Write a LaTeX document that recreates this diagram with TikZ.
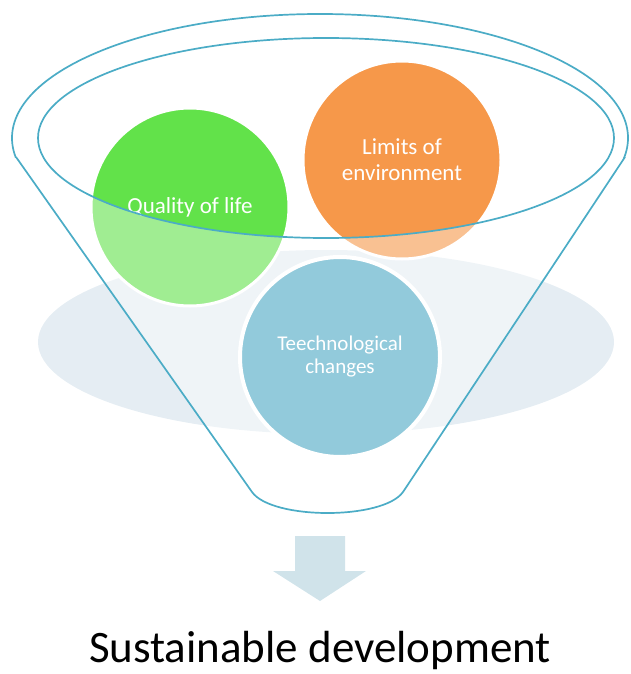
\documentclass[tikz,border=0pt]{standalone}
\usepackage{fontspec}
\setmainfont{Carlito}
\definecolor{rimc}{HTML}{4BACC6}
\definecolor{bgell}{HTML}{E5EDF3}
\definecolor{qgreen}{HTML}{62E24A}
\definecolor{lorange}{HTML}{F6984A}
\definecolor{tblue}{HTML}{92CADB}
\definecolor{arrowc}{HTML}{D0E3EA}
\begin{document}
\begin{tikzpicture}[x=1pt,y=-1pt,
  circ/.style={circle, draw=white, line width=3pt, inner sep=0pt, minimum size=198pt,
    text=white, align=center, font=\fontsize{23}{26}\selectfont},
  rimline/.style={draw=rimc, line width=1.7pt, line join=round}]
\useasboundingbox (0,0) rectangle (630,674);
% background ellipse
\fill[bgell] (326,342) ellipse [x radius=288pt, y radius=92pt];
% circles behind the funnel front
\node[circ, fill=qgreen] (q) at (190,207) {Quality of life};
\node[circ, fill=lorange] (lim) at (402,160) {Limits of\\environment};
% translucent funnel front
\fill[white, opacity=0.4, even odd rule]
  (16,157) -- (252,492) .. controls (272,520) and (383,520) .. (403,492) -- (625,157)
  -- (626,0) -- (14,0) -- cycle
  (326,138) ellipse [x radius=288pt, y radius=100pt];
% front circle
\node[circ, fill=tblue, line width=4pt, minimum size=200pt,
  font=\fontsize{21}{23}\selectfont] (tech) at (340,357) {Teechnological\\changes};
% funnel outline
\begin{scope}
  \clip (0,0) rectangle (630,157);
  \draw[rimline] (320,138) ellipse [x radius=308pt, y radius=124pt];
\end{scope}
\draw[rimline] (16,157) -- (252,492) .. controls (272,520) and (383,520) .. (403,492) -- (625,157);
\draw[rimline] (326,138) ellipse [x radius=288pt, y radius=100pt];
% arrow
\fill[arrowc] (295,536) -- (345,536) -- (345,571) -- (366,571) -- (320,601)
  -- (273,571) -- (295,571) -- cycle;
% caption
\node[anchor=base, inner sep=0pt, font=\fontsize{45}{50}\selectfont] (sd) at (320,662) {Sustainable development};
\end{tikzpicture}
\end{document}
